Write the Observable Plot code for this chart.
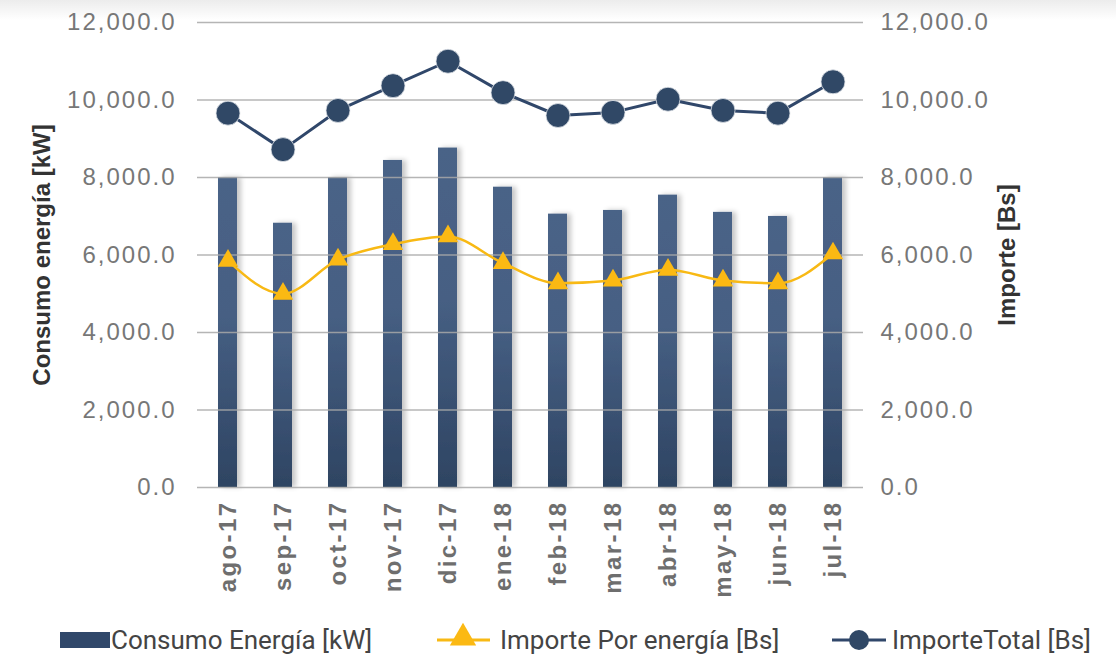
<!DOCTYPE html>
<html><head><meta charset="utf-8">
<script src="https://cdn.jsdelivr.net/npm/d3@7"></script>
<script src="https://cdn.jsdelivr.net/npm/@observablehq/plot@0.6"></script>
<style>
html,body{margin:0;padding:0;}
body{width:1116px;height:654px;overflow:hidden;background:linear-gradient(#ececec 0px,#ffffff 20px);}
#legend{position:relative;height:42px;font-family:Roboto,sans-serif;font-size:26px;color:#444;}
#legend span{position:absolute;line-height:30px;top:13px;white-space:nowrap;}
#legend svg{position:absolute;left:0;top:0;}
</style></head><body><div id="chart"></div><div id="legend"></div>
<script>
const months = ["ago-17","sep-17","oct-17","nov-17","dic-17","ene-18","feb-18","mar-18","abr-18","may-18","jun-18","jul-18"];
const consumo = [8000,6820,8000,8440,8760,7750,7055,7150,7545,7100,6995,8000];
const importeEnergia = [5850,5000,5880,6280,6480,5790,5270,5340,5620,5340,5270,6040];
const importeTotal = [9660,8720,9730,10370,11000,10190,9600,9680,10020,9730,9660,10470];
const yTicks = [0,2000,4000,6000,8000,10000,12000];
const seriesNames = ["Consumo Energía [kW]","Importe Por energía [Bs]","ImporteTotal [Bs]"];
const leftTitle = "Consumo energía [kW]";
const rightTitle = "Importe [Bs]";

const data = months.map((m,i)=>({mes:m, consumo:consumo[i], energia:importeEnergia[i], total:importeTotal[i]}));
const fmt = d3.format(",.1f");
const navy = "#30476a", gold = "#fbb913";

const chart = Plot.plot({
  width:1116, height:612,
  marginTop:22, marginBottom:125, marginLeft:197, marginRight:253,
  x:{domain:months, paddingInner:0.657, paddingOuter:0.33, label:null},
  y:{domain:[0,12000], label:null},
  style:{fontFamily:"Liberation Sans", background:"transparent", overflow:"visible"},
  marks:[
    Plot.barY(data,{x:"mes",y:"consumo",fill:"url(#barGrad)"}),
    Plot.ruleY(yTicks,{stroke:"#a8a8a8",strokeWidth:1.5,strokeOpacity:0.85}),
    Plot.line(data,{x:"mes",y:"energia",stroke:"#f8b914",strokeWidth:2.5,curve:"monotone-x"}),
    Plot.dot(data,{x:"mes",y:"energia",symbol:"triangle",r:7.6,fill:gold,stroke:null}),
    Plot.line(data,{x:"mes",y:"total",stroke:navy,strokeWidth:3}),
    Plot.dot(data,{x:"mes",y:"total",r:12,fill:"#304866",stroke:"#dfe3e8",strokeWidth:0.8}),
    Plot.axisY(yTicks,{anchor:"left",tickSize:0,tickPadding:21,tickFormat:fmt,fontSize:24,color:"#777",label:null}),
    Plot.axisY(yTicks,{anchor:"right",tickSize:0,tickPadding:17,tickFormat:fmt,fontSize:24,color:"#777",label:null}),
    Plot.axisX(months,{anchor:"bottom",tickSize:0,tickPadding:13,tickRotate:-90,fontSize:24,fontWeight:"bold",color:"#6e6e6e",label:null}),
    Plot.text([leftTitle],{frameAnchor:"left",dx:-155,rotate:-90,textAnchor:"middle",fontSize:24,fontWeight:"bold",fill:"#333"}),
    Plot.text([rightTitle],{frameAnchor:"right",dx:144,rotate:-90,textAnchor:"middle",fontSize:24,fontWeight:"bold",fill:"#333"})
  ]
});

const svg = d3.select(chart);
const defs = svg.insert("defs",":first-child");
const grad = defs.append("linearGradient").attr("id","barGrad").attr("x1",0).attr("y1",0).attr("x2",0).attr("y2",1);
grad.append("stop").attr("offset","0%").attr("stop-color","#4a6387");
grad.append("stop").attr("offset","45%").attr("stop-color","#465f83");
grad.append("stop").attr("offset","100%").attr("stop-color","#2e4462");
const filt = defs.append("filter").attr("id","shadow").attr("x","-50%").attr("y","-10%").attr("width","200%").attr("height","120%");
filt.append("feDropShadow").attr("dx",4).attr("dy",0).attr("stdDeviation",2.5).attr("flood-color","#000").attr("flood-opacity",0.22);
svg.selectAll('g[aria-label="bar"]').attr("filter","url(#shadow)");
const yLabels = yTicks.map(fmt);
svg.selectAll("text").filter(function(){return yLabels.includes(this.textContent);})
  .style("letter-spacing","2px");
svg.selectAll("text").filter(function(){return months.includes(this.textContent);})
  .style("letter-spacing","2.4px");
document.getElementById("chart").appendChild(chart);

// legend
const leg = d3.select("#legend");
const ls = leg.append("svg").attr("width",1116).attr("height",42);
ls.append("rect").attr("x",60).attr("y",20).attr("width",50).attr("height",16).attr("fill","#30476a");
ls.append("line").attr("x1",437).attr("x2",490).attr("y1",28).attr("y2",28).attr("stroke","#f8b914").attr("stroke-width",3);
ls.append("path").attr("d",d3.symbol(d3.symbolTriangle,300)()).attr("transform","translate(463,26)").attr("fill",gold);
ls.append("line").attr("x1",832).attr("x2",886).attr("y1",28).attr("y2",28).attr("stroke",navy).attr("stroke-width",3);
ls.append("circle").attr("cx",859).attr("cy",28).attr("r",10).attr("fill","#304866");
const lx = [111,500,892];
seriesNames.forEach((n,i)=>leg.append("span").style("left",lx[i]+"px").text(n));
</script>
</body></html>
